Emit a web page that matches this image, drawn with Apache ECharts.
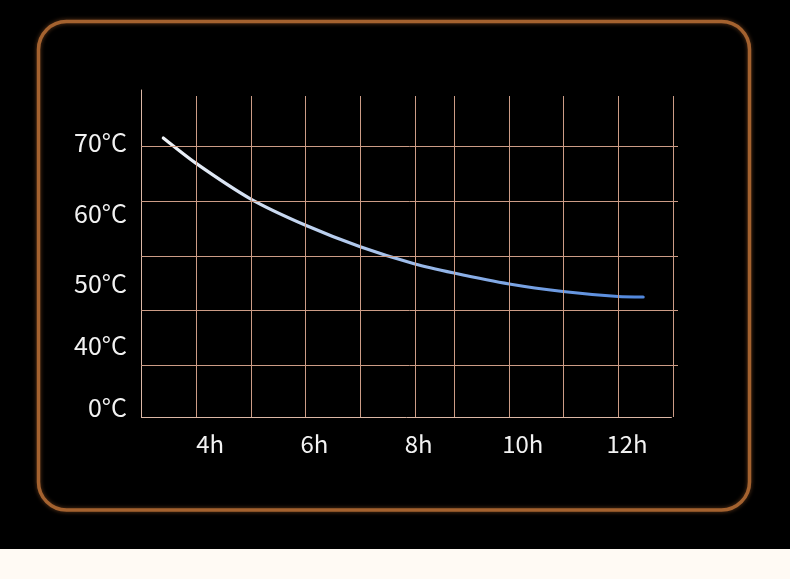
<!DOCTYPE html>
<html>
<head>
<meta charset="utf-8">
<script src="https://cdn.jsdelivr.net/npm/echarts@6/dist/echarts.min.js"></script>
<style>
html,body{margin:0;padding:0;background:#000;}
#chart{width:790px;height:579px;}
</style>
</head>
<body>
<div id="chart"></div>
<script>
// ---- data ----
const hours = [3.1, 3.73, 4.78, 5.82, 6.88, 7.93, 8.68, 9.74, 10.77, 11.83, 12.31];
const temps = [70.64, 67.05, 62.01, 58.34, 55.27, 52.83, 51.55, 50.0, 48.94, 48.23, 48.16];
const xTickValues = [4, 6, 8, 10, 12];
const xTickLabels = ['4h', '6h', '8h', '10h', '12h'];
const yTickValues = [32.55, 41.24, 50, 60, 70];
const yTickLabels = ['0°C', '40°C', '50°C', '60°C', '70°C'];
const gridXLines = [3.727, 4.783, 5.82, 6.875, 7.93, 8.68, 9.735, 10.77, 11.83, 12.88];
const gridYLines = [69.5, 61.73, 53.96, 46.33, 38.55];

// ---- axis extents ----
const X_MIN = 2.672, X_MAX = 12.979, X_AXIS_END = 12.86;
const Y_MIN = 31.2, Y_MAX = 77.42, V_TOP = 76.57;

const chart = echarts.init(document.getElementById('chart'), null, {renderer: 'canvas'});
const FONT = '"Noto Sans CJK SC", "Noto Sans", sans-serif';
const gridColor = '#cc9c86';

const markData = [];
gridYLines.forEach(t => markData.push([{coord: [X_MIN, t]}, {coord: [X_MAX, t]}]));
gridXLines.forEach(h => markData.push([{coord: [h, Y_MIN]}, {coord: [h, V_TOP]}]));
markData.push([{coord: [X_MIN, Y_MIN], lineStyle: {color: '#dcb8a6'}}, {coord: [X_AXIS_END, Y_MIN], lineStyle: {color: '#dcb8a6'}}]);

chart.setOption({
  backgroundColor: '#000',
  animation: false,
  graphic: [
    {type: 'rect', z: -1, shape: {x: 0, y: 549, width: 790, height: 30}, style: {fill: '#fffaf4'}, silent: true},
    {type: 'rect', shape: {x: 38.5, y: 21.5, width: 711, height: 488.5, r: 28},
     style: {fill: 'none', stroke: '#a4622f', lineWidth: 3.5, shadowBlur: 4, shadowColor: 'rgba(170,100,50,0.6)'}, silent: true}
  ],
  grid: {left: 141, right: 112, top: 90, bottom: 162, containLabel: false},
  xAxis: {
    type: 'value', min: X_MIN, max: X_MAX,
    axisLine: {show: false},
    axisTick: {show: false},
    splitLine: {show: false},
    axisLabel: {
      customValues: xTickValues,
      formatter: v => xTickLabels[xTickValues.indexOf(v)],
      color: '#f2f2f2', fontSize: 24, fontFamily: FONT, margin: 15
    }
  },
  yAxis: {
    type: 'value', min: Y_MIN, max: Y_MAX,
    axisLine: {show: true, lineStyle: {color: '#dcb8a6', width: 1}},
    axisTick: {show: false},
    splitLine: {show: false},
    axisLabel: {
      customValues: yTickValues,
      formatter: v => yTickLabels[yTickValues.indexOf(v)],
      color: '#f2f2f2', fontSize: 25, fontFamily: FONT, margin: 14
    }
  },
  series: [{
    type: 'line',
    data: hours.map((h, i) => [h, temps[i]]),
    smooth: 0.25,
    showSymbol: false,
    clip: false,
    lineStyle: {
      width: 3.2,
      cap: 'round',
      color: new echarts.graphic.LinearGradient(0, 0, 1, 0, [
        {offset: 0, color: '#f0f3f7'},
        {offset: 0.45, color: '#a8c3ec'},
        {offset: 1, color: '#4f86dc'}
      ])
    },
    markLine: {
      silent: true,
      symbol: 'none',
      label: {show: false},
      lineStyle: {color: gridColor, width: 1, type: 'solid'},
      emphasis: {disabled: true},
      data: markData
    },
    z: 3
  }]
});
</script>
</body>
</html>
